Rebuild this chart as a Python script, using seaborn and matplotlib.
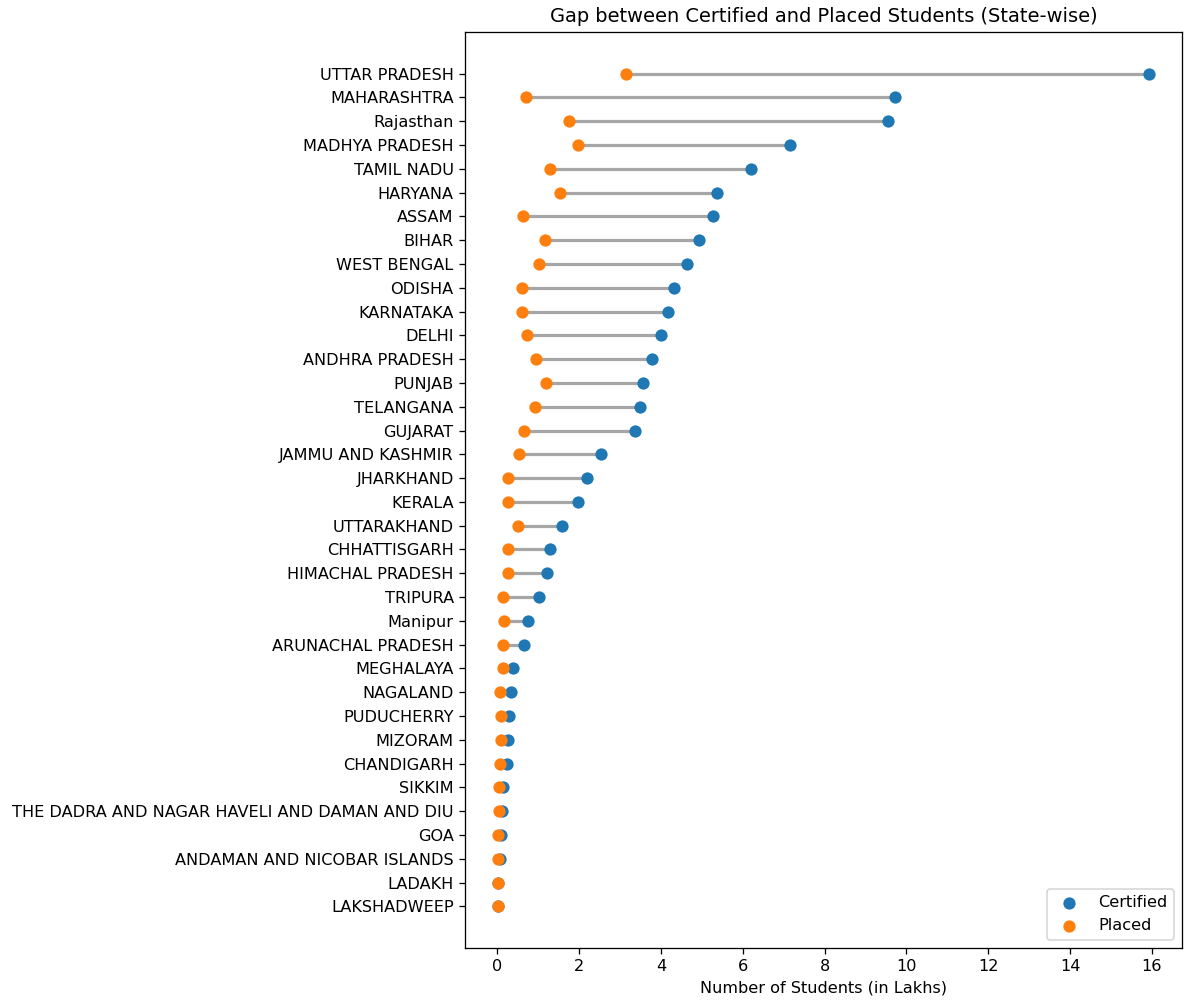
import matplotlib
matplotlib.use("Agg")
import matplotlib.pyplot as plt
import seaborn as sns
import numpy as np
import pandas as pd

# Top-to-bottom order as shown
states = ["UTTAR PRADESH", "MAHARASHTRA", "Rajasthan", "MADHYA PRADESH", "TAMIL NADU",
          "HARYANA", "ASSAM", "BIHAR", "WEST BENGAL", "ODISHA", "KARNATAKA", "DELHI",
          "ANDHRA PRADESH", "PUNJAB", "TELANGANA", "GUJARAT", "JAMMU AND KASHMIR",
          "JHARKHAND", "KERALA", "UTTARAKHAND", "CHHATTISGARH", "HIMACHAL PRADESH",
          "TRIPURA", "Manipur", "ARUNACHAL PRADESH", "MEGHALAYA", "NAGALAND",
          "PUDUCHERRY", "MIZORAM", "CHANDIGARH", "SIKKIM",
          "THE DADRA AND NAGAR HAVELI AND DAMAN AND DIU", "GOA",
          "ANDAMAN AND NICOBAR ISLANDS", "LADAKH", "LAKSHADWEEP"]
certified = [15.94, 9.71, 9.54, 7.15, 6.21, 5.36, 5.27, 4.93, 4.64, 4.32, 4.18, 3.99,
             3.79, 3.55, 3.48, 3.36, 2.54, 2.20, 1.98, 1.57, 1.28, 1.21, 1.01, 0.74,
             0.66, 0.39, 0.34, 0.28, 0.26, 0.23, 0.13, 0.11, 0.10, 0.065, 0.02, 0.005]
placed = [3.14, 0.70, 1.74, 1.98, 1.28, 1.52, 0.63, 1.16, 1.01, 0.60, 0.60, 0.72,
          0.94, 1.18, 0.92, 0.65, 0.53, 0.27, 0.27, 0.51, 0.27, 0.27, 0.14, 0.15,
          0.145, 0.14, 0.056, 0.10, 0.10, 0.065, 0.05, 0.04, 0.02, 0.017, 0.02, 0.01]

df = pd.DataFrame({"State": states[::-1], "Certified": certified[::-1], "Placed": placed[::-1]})
df["pos"] = np.arange(len(df))

DPI = 116
fig, ax = plt.subplots(figsize=(1185/DPI, 1003/DPI), dpi=DPI)
fig.subplots_adjust(left=465/1185, right=1182/1185, top=1-32/1003, bottom=1-948/1003)

ax.hlines(y=df["pos"], xmin=df["Placed"], xmax=df["Certified"], color="gray", alpha=0.7, linewidth=2)
sns.scatterplot(data=df, x="Certified", y="pos", color="#1f77b4", s=58, linewidth=0, label="Certified", ax=ax, zorder=3)
sns.scatterplot(data=df, x="Placed", y="pos", color="#ff7f0e", s=58, linewidth=0, label="Placed", ax=ax, zorder=4)

ax.set_yticks(df["pos"])
ax.set_yticklabels(df["State"])
ax.set_ylabel("")
ax.set_xlabel("Number of Students (in Lakhs)")
ax.set_title("Gap between Certified and Placed Students (State-wise)")
ax.legend(loc="lower right")

fig.savefig("out.png", dpi=DPI)
